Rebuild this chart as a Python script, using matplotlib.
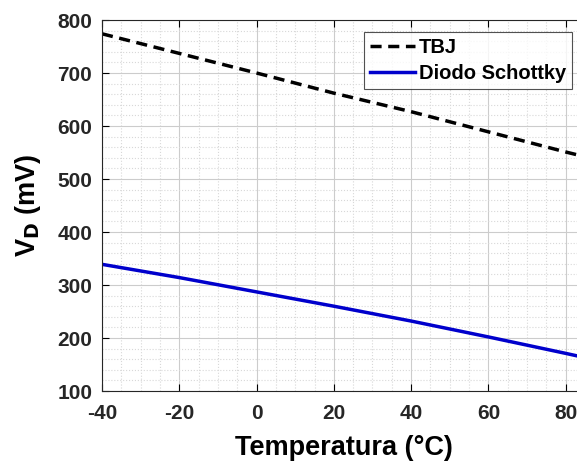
import numpy as np
import matplotlib
matplotlib.use('Agg')
import matplotlib.pyplot as plt
from matplotlib.ticker import MultipleLocator

# values
temperatura = [-40, -20, 0, 20, 40, 60, 80, 85]
v_tbj = [774, 737, 700, 662, 627, 589, 551, 542]
v_schottky = [339, 314, 287, 260, 232, 202, 171, 163]

plt.rcParams['font.family'] = ['Liberation Sans', 'DejaVu Sans']
plt.rcParams['font.weight'] = 'bold'
plt.rcParams['axes.unicode_minus'] = False

fig = plt.figure(figsize=(5.77, 4.61), dpi=100)
# right part of the axes is cut off by the figure edge, like the reference
ax = fig.add_axes([102 / 577, 70 / 461, 483 / 577, 371 / 461])

ax.plot(temperatura, v_tbj, color='black', linestyle='--', dashes=(3.2, 1.9), linewidth=2.5, label='TBJ')
ax.plot(temperatura, v_schottky, color='#0000cc', linewidth=2.5, label='Diodo Schottky')

ax.set_xlim(-40, 85)
ax.set_ylim(100, 800)
ax.xaxis.set_major_locator(MultipleLocator(20))
ax.xaxis.set_minor_locator(MultipleLocator(5))
ax.yaxis.set_major_locator(MultipleLocator(100))
ax.yaxis.set_minor_locator(MultipleLocator(20))

ax.grid(which='major', color='#cccccc', linewidth=0.8)
ax.grid(which='minor', color='#d8d8d8', linestyle=':', linewidth=0.8)
ax.set_axisbelow(True)

ax.tick_params(which='major', direction='in', length=5, width=0.8, top=True, labelsize=15)
ax.tick_params(axis='x', pad=9)
ax.tick_params(axis='y', pad=7)
ax.tick_params(which='minor', length=0)
for lab in ax.get_xticklabels() + ax.get_yticklabels():
    lab.set_fontweight('bold')
    lab.set_color('#262626')
for s in ax.spines.values():
    s.set_color('#262626')

ax.set_xlabel('Temperatura (°C)', fontsize=19.5, fontweight='bold', labelpad=9)
ax.set_ylabel('V$_\\mathbf{D}$ (mV)', fontsize=19.5, fontweight='bold', labelpad=10)

leg = ax.legend(loc='upper right', bbox_to_anchor=(572 / 577, 429 / 461), bbox_transform=fig.transFigure,
                fontsize=14.5, frameon=True, fancybox=False, handlelength=2.2,
                borderpad=0.3, labelspacing=0.35, handletextpad=0.2, borderaxespad=0)
leg.get_frame().set_edgecolor('#262626')
leg.get_frame().set_linewidth(0.8)
for t in leg.get_texts():
    t.set_fontweight('bold')

fig.savefig('out.png', dpi=100)
